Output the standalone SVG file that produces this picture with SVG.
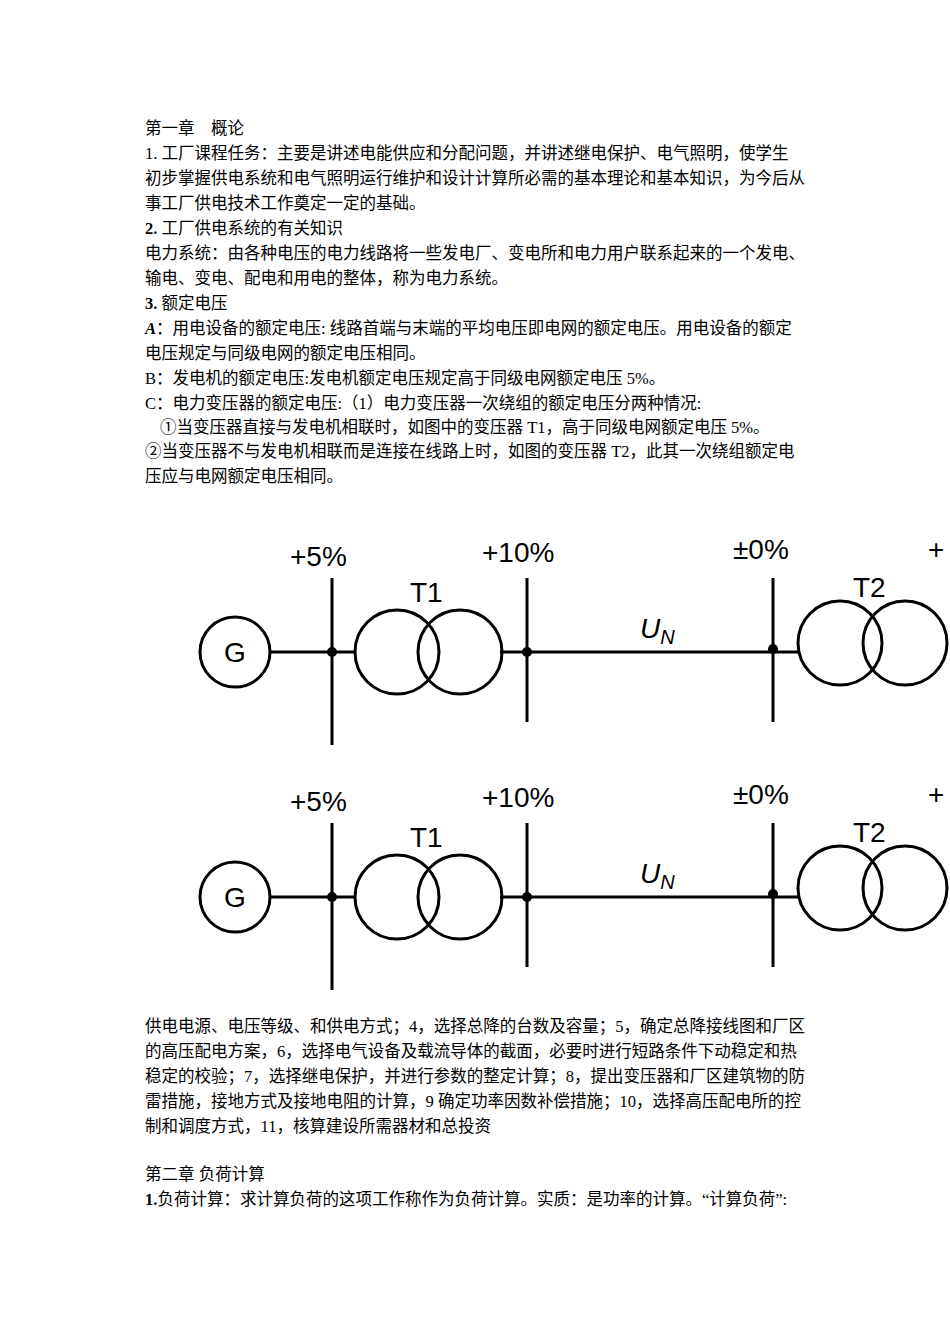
<svg xmlns="http://www.w3.org/2000/svg" width="950" height="1344" viewBox="0 0 950 1344">
<style>
.t{font-family:"Liberation Serif","Noto Sans CJK SC",serif;font-size:16.5px;fill:#000}
.b{font-weight:bold}
.d{font-family:"Liberation Sans","DejaVu Sans",sans-serif;font-size:28px;fill:#000}
.ln{stroke:#000;stroke-width:3;fill:none}
</style>
<rect width="950" height="1344" fill="#fff"/>
<g id="text1" class="t">
<text x="145" y="134">第一章　概论</text>
<text x="145" y="159">1. 工厂课程任务：主要是讲述电能供应和分配问题，并讲述继电保护、电气照明，使学生</text>
<text x="145" y="184">初步掌握供电系统和电气照明运行维护和设计计算所必需的基本理论和基本知识，为今后从</text>
<text x="145" y="209">事工厂供电技术工作奠定一定的基础。</text>
<text x="145" y="234"><tspan class="b">2.</tspan> 工厂供电系统的有关知识</text>
<text x="145" y="259">电力系统：由各种电压的电力线路将一些发电厂、变电所和电力用户联系起来的一个发电、</text>
<text x="145" y="284">输电、变电、配电和用电的整体，称为电力系统。</text>
<text x="145" y="309"><tspan class="b">3.</tspan> 额定电压</text>
<text x="145" y="334"><tspan class="b" font-style="italic">A</tspan>：用电设备的额定电压: 线路首端与末端的平均电压即电网的额定电压。用电设备的额定</text>
<text x="145" y="359">电压规定与同级电网的额定电压相同。</text>
<text x="145" y="384">B：发电机的额定电压:发电机额定电压规定高于同级电网额定电压 5%。</text>
<text x="145" y="409">C：电力变压器的额定电压:（1）电力变压器一次绕组的额定电压分两种情况:</text>
<text x="160" y="433">①当变压器直接与发电机相联时，如图中的变压器 T1，高于同级电网额定电压 5%。</text>
<text x="145" y="457">②当变压器不与发电机相联而是连接在线路上时，如图的变压器 T2，此其一次绕组额定电</text>
<text x="145" y="482">压应与电网额定电压相同。</text>
</g>
<defs>
<g id="diag">
<circle class="ln" cx="235" cy="652" r="35"/>
<text class="d" x="235" y="662" text-anchor="middle">G</text>
<line class="ln" x1="270" y1="652" x2="355" y2="652"/>
<line class="ln" x1="500" y1="652" x2="798" y2="652"/>
<line class="ln" x1="332" y1="578" x2="332" y2="745"/>
<line class="ln" x1="527" y1="578" x2="527" y2="722"/>
<line class="ln" x1="773" y1="578" x2="773" y2="722"/>
<circle cx="332" cy="652" r="5"/>
<circle cx="527" cy="652" r="5"/>
<circle cx="773" cy="649" r="5"/>
<circle class="ln" cx="397" cy="652" r="42"/>
<circle class="ln" cx="460" cy="652" r="42"/>
<circle class="ln" cx="840" cy="643" r="42"/>
<circle class="ln" cx="905" cy="643" r="42"/>
<text class="d" x="290" y="566">+5%</text>
<text class="d" x="482" y="562">+10%</text>
<text class="d" x="733" y="559">±0%</text>
<text class="d" x="928" y="559">+</text>
<text class="d" x="410" y="602">T1</text>
<text class="d" x="853" y="597">T2</text>
<text class="d" x="640" y="638" font-style="italic">U<tspan font-size="20" dy="6">N</tspan></text>
</g>
</defs>
<g id="diagram1"><use href="#diag"/></g>
<g id="diagram2"><use href="#diag" y="245"/></g>
<g id="text2" class="t">
<text x="145" y="1032">供电电源、电压等级、和供电方式；4，选择总降的台数及容量；5，确定总降接线图和厂区</text>
<text x="145" y="1057">的高压配电方案，6，选择电气设备及载流导体的截面，必要时进行短路条件下动稳定和热</text>
<text x="145" y="1082">稳定的校验；7，选择继电保护，并进行参数的整定计算；8，提出变压器和厂区建筑物的防</text>
<text x="145" y="1107">雷措施，接地方式及接地电阻的计算，9 确定功率因数补偿措施；10，选择高压配电所的控</text>
<text x="145" y="1132">制和调度方式，11，核算建设所需器材和总投资</text>
<text x="145" y="1180">第二章  负荷计算</text>
<text x="145" y="1205"><tspan class="b">1.</tspan>负荷计算：求计算负荷的这项工作称作为负荷计算。实质：是功率的计算。“计算负荷”:</text>
</g>
</svg>
